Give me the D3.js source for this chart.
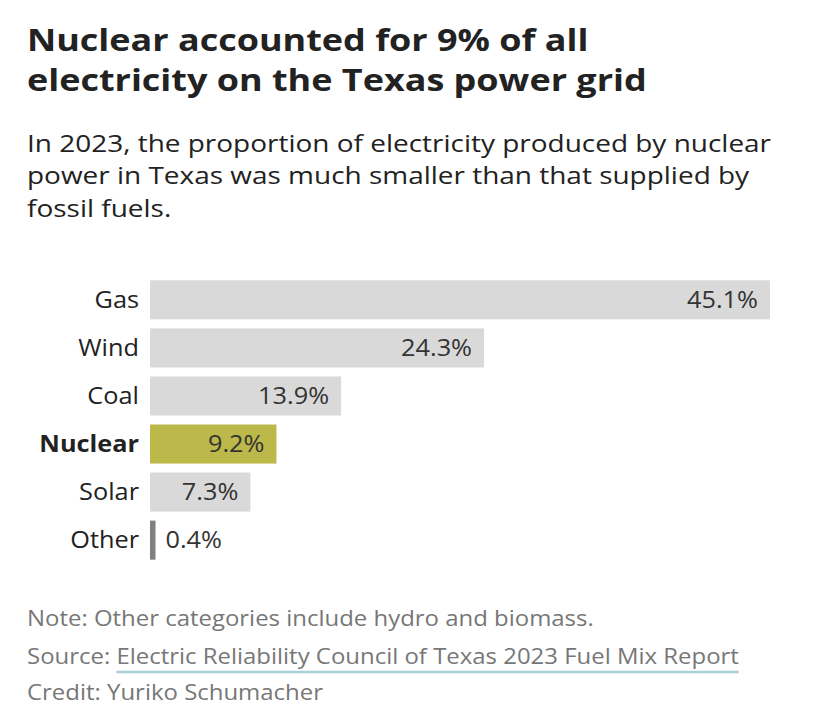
<!DOCTYPE html>
<html><head><meta charset="utf-8">
<script src="https://cdn.jsdelivr.net/npm/d3@7"></script>
<style>
body{margin:0;background:#fff;font-family:"Open Sans",sans-serif;}
</style></head><body>
<svg id="chart" width="816" height="728"></svg>
<script>
const categories = ["Gas","Wind","Coal","Nuclear","Solar","Other"];
const values = [45.1,24.3,13.9,9.2,7.3,0.4];
const highlight = "Nuclear";
const titleLines = ["Nuclear accounted for 9% of all","electricity on the Texas power grid"];
const subtitleLines = ["In 2023, the proportion of electricity produced by nuclear","power in Texas was much smaller than that supplied by","fossil fuels."];
const note = "Note: Other categories include hydro and biomass.";
const sourceLabel = "Source: ";
const sourceLink = "Electric Reliability Council of Texas 2023 Fuel Mix Report";
const credit = "Credit: Yuriko Schumacher";

const svg = d3.select("#chart");
svg.append("rect").attr("width",816).attr("height",728).attr("fill","#fff");

// horizontally widen text to match the reference's wider glyph set
function widen(sel, f){
  sel.each(function(){
    const w = this.getComputedTextLength();
    d3.select(this).attr("textLength", w*f).attr("lengthAdjust","spacingAndGlyphs");
  });
}

titleLines.forEach((t,i)=>{
  svg.append("text").attr("class","title").attr("x",27).attr("y",51+i*40)
    .attr("font-weight",700).attr("font-size",31).attr("fill","#222").text(t);
});
widen(svg.selectAll("text.title"),1.16);

subtitleLines.forEach((t,i)=>{
  svg.append("text").attr("class","sub").attr("x",27).attr("y",152+i*32.3)
    .attr("font-size",24).attr("fill","#222").text(t);
});
widen(svg.selectAll("text.sub"),1.165);

const x = d3.scaleLinear().domain([0,d3.max(values)]).range([150,770]);
const y = d3.scaleBand().domain(categories).range([276,564]).paddingInner(0.1875).paddingOuter(0.09);

const data = categories.map((c,i)=>({c,v:values[i]}));
const g = svg.append("g");
g.selectAll("rect.bar").data(data).join("rect").attr("class","bar")
  .attr("x",x(0)).attr("y",d=>y(d.c)).attr("width",d=>x(d.v)-x(0)).attr("height",y.bandwidth())
  .attr("fill",d=>d.c===highlight?"#bdb84a":(d.v<1?"#808080":"#d9d9d9"));

g.selectAll("text.cat").data(data).join("text").attr("class","cat")
  .attr("x",139).attr("y",d=>y(d.c)+y.bandwidth()/2).attr("dy","0.36em")
  .attr("text-anchor","end").attr("font-size",23).attr("fill","#222")
  .attr("font-weight",d=>d.c===highlight?700:400).text(d=>d.c);
widen(g.selectAll("text.cat"),1.1);

g.selectAll("text.val").data(data).join("text").attr("class","val")
  .attr("x",d=>(x(d.v)-x(0))>40? x(d.v)-12 : x(d.v)+10)
  .attr("text-anchor",d=>(x(d.v)-x(0))>40?"end":"start")
  .attr("y",d=>y(d.c)+y.bandwidth()/2).attr("dy","0.36em")
  .attr("font-size",23).attr("fill","#333").text(d=>d.v.toFixed(1)+"%");
widen(g.selectAll("text.val"),1.1);

const fk = 1.14;
const fg = svg.append("g").attr("font-size",21).attr("fill","#777");
const fn = fg.append("text").attr("x",27).attr("y",626).text(note);
const fs = fg.append("text").attr("x",27).attr("y",664).attr("xml:space","preserve").text(sourceLabel+sourceLink);
const fc = fg.append("text").attr("x",27).attr("y",700).text(credit);
const labLen = fs.node().getSubStringLength(0, sourceLabel.length);
const fullLen = fs.node().getComputedTextLength();
[fn,fs,fc].forEach(s=>widen(s,fk));
const linkStart = 27 + labLen*fk;
const linkEnd = 27 + fullLen*fk;
svg.append("line").attr("x1",linkStart).attr("x2",linkEnd).attr("y1",672).attr("y2",672)
  .attr("stroke","#a9d0db").attr("stroke-width",2.5);
</script>
</body></html>
